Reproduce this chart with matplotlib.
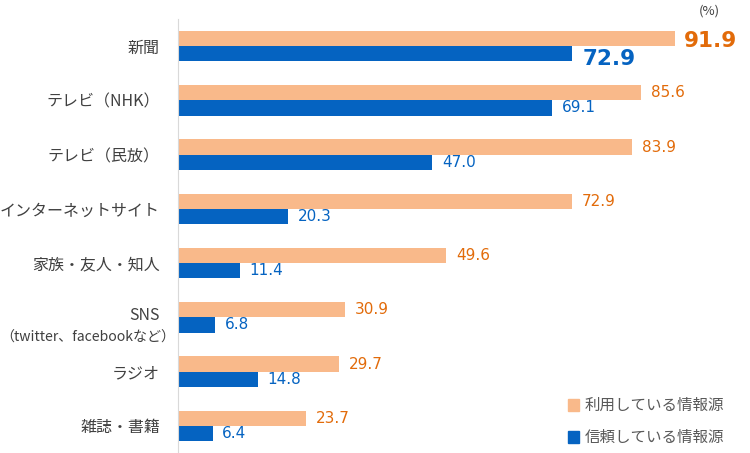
import matplotlib.pyplot as plt
import matplotlib.transforms as mtransforms
import numpy as np

plt.rcParams['font.family'] = ['Noto Sans CJK JP', 'DejaVu Sans']

categories = ['新聞', 'テレビ（NHK）', 'テレビ（民放）', 'インターネットサイト',
              '家族・友人・知人', 'SNS\n（twitter、facebookなど）', 'ラジオ', '雑誌・書籍']
used = [91.9, 85.6, 83.9, 72.9, 49.6, 30.9, 29.7, 23.7]
trusted = [72.9, 69.1, 47.0, 20.3, 11.4, 6.8, 14.8, 6.4]
legend_labels = ['利用している情報源', '信頼している情報源']

c_used = '#F9B98A'
c_trust = '#0563C1'
t_used = '#E26B0A'
t_trust = '#0563C1'
c_text = '#404040'

fig = plt.figure(figsize=(7.5, 4.53), dpi=100)
ax = fig.add_axes([178 / 750, 0.0, 541 / 750, 1 - 19 / 453])

y = np.arange(len(categories))
h = 0.28
ax.barh(y - h / 2, used, height=h, color=c_used)
ax.barh(y + h / 2, trusted, height=h, color=c_trust)

for i, (u, t) in enumerate(zip(used, trusted)):
    if i == 0:
        ax.text(u + 1.6, y[i] - h / 2 + 0.05, f'{u:.1f}', color=t_used, fontsize=15.5,
                fontweight='bold', va='center', family='DejaVu Sans')
        ax.text(t + 1.9, y[i] + h / 2 + 0.1, f'{t:.1f}', color=t_trust, fontsize=15.5,
                fontweight='bold', va='center', family='DejaVu Sans')
    else:
        ax.text(u + 1.8, y[i] - h / 2, f'{u:.1f}', color=t_used, fontsize=11,
                va='center', family='DejaVu Sans')
        ax.text(t + 1.8, y[i] + h / 2, f'{t:.1f}', color=t_trust, fontsize=11,
                va='center', family='DejaVu Sans')

ax.set_ylim(len(categories) - 0.5, -0.5)
ax.set_xlim(0, 100)
ax.set_yticks(y)
ticklabels = [c if not c.startswith('SNS') else '' for c in categories]
ax.set_yticklabels(ticklabels, fontsize=11.5, color=c_text)
ax.tick_params(axis='y', length=0, pad=13)
ax.set_xticks([])
for s in ['top', 'right', 'bottom']:
    ax.spines[s].set_visible(False)
ax.spines['left'].set_color('#D9D9D9')

# two-line SNS label drawn by hand
sns_idx = [i for i, c in enumerate(categories) if c.startswith('SNS')][0]
line1, line2 = categories[sns_idx].split('\n')
trans = mtransforms.blended_transform_factory(fig.transFigure, ax.transData)
ax.text(160 / 750, y[sns_idx] - 0.03, line1, transform=trans, ha='right', va='center',
        fontsize=11.5, color=c_text)
ax.text(175 / 750, y[sns_idx] + 0.36, line2, transform=trans, ha='right', va='center',
        fontsize=10.1, color=c_text)

fig.text(0.96, 0.975, '(%)', fontsize=9.5, color=c_text, ha='right', va='center')

# legend
for k, (lab, col) in enumerate(zip(legend_labels, [c_used, c_trust])):
    yy = 1 - (405 + k * 32) / 453
    fig.patches.append(plt.Rectangle((568 / 750, yy - 0.013), 11 / 750, 12 / 453,
                                     transform=fig.transFigure, color=col))
    fig.text(585 / 750, yy, lab, fontsize=11.2, color='#595959', va='center')

fig.savefig('out.png', dpi=100)
